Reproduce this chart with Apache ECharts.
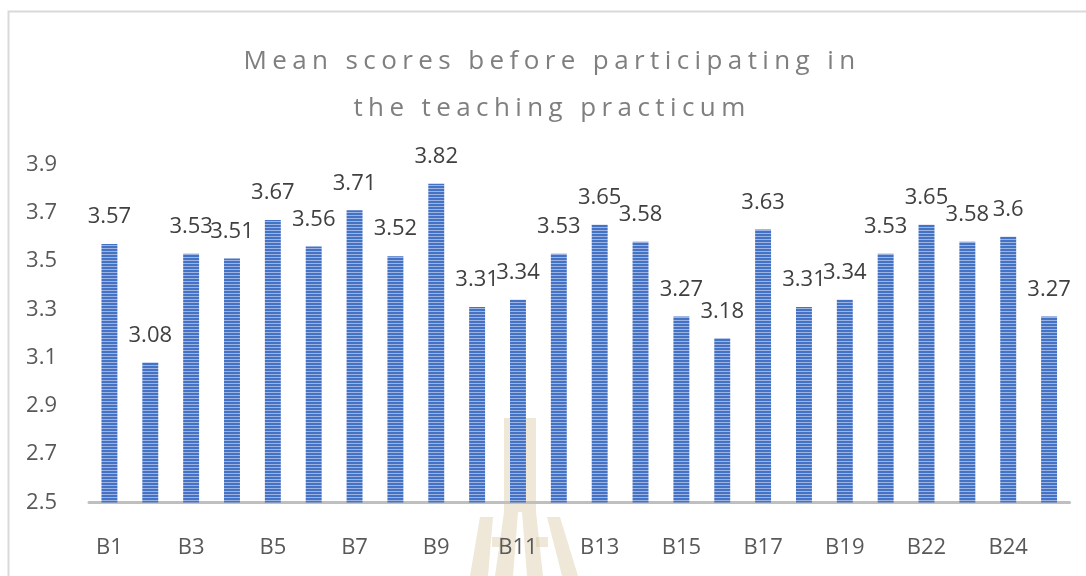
<!DOCTYPE html>
<html><head><meta charset="utf-8">
<script src="https://cdn.jsdelivr.net/npm/echarts@6/dist/echarts.min.js"></script>
<style>html,body{margin:0;padding:0;background:#fff}#c{width:1086px;height:576px}</style>
</head><body><div id="c"></div>
<script>
const categories = ['B1','B2','B3','B4','B5','B6','B7','B8','B9','B10','B11','B12','B13','B14','B15','B16','B17','B18','B19','B21','B22','B23','B24','B25'];
const values = [3.57,3.08,3.53,3.51,3.67,3.56,3.71,3.52,3.82,3.31,3.34,3.53,3.65,3.58,3.27,3.18,3.63,3.31,3.34,3.53,3.65,3.58,3.6,3.27];
const yMin = 2.5, yMax = 3.9, yStep = 0.2;
const titleLines = ['Mean scores before participating in', 'the teaching practicum'];

// letter-spaced title (real text, drawn by ECharts/zrender)
const TITLE_SPACING = 5.4;
const _fillText = CanvasRenderingContext2D.prototype.fillText;
CanvasRenderingContext2D.prototype.fillText = function (t, x, y, w) {
  if (titleLines.indexOf(t) >= 0 && 'letterSpacing' in this) {
    const prev = this.letterSpacing;
    this.letterSpacing = TITLE_SPACING + 'px';
    const r = w === undefined ? _fillText.call(this, t, x, y) : _fillText.call(this, t, x, y, w);
    this.letterSpacing = prev;
    return r;
  }
  return w === undefined ? _fillText.call(this, t, x, y) : _fillText.call(this, t, x, y, w);
};

// striped bar fill
const pc = document.createElement('canvas');
pc.width = 3; pc.height = 3;
const g = pc.getContext('2d');
g.fillStyle = '#4472C4'; g.fillRect(0, 0, 3, 2);
g.fillStyle = '#9DB4E3'; g.fillRect(0, 2, 3, 1);

const wm = 'rgba(214,194,156,0.38)';
const chart = echarts.init(document.getElementById('c'), null, {renderer: 'canvas'});
chart.setOption({
  animation: false,
  backgroundColor: '#fff',
  textStyle: {fontFamily: 'Open Sans'},
  title: {
    text: titleLines.join('\n'),
    left: 547, top: 33, textAlign: 'center',
    textStyle: {fontFamily: 'Open Sans', fontSize: 26, fontWeight: 'normal', color: '#7F7F7F', lineHeight: 47}
  },
  grid: {left: 89, right: 16.5, top: 164.4, bottom: 73.5, containLabel: false},
  xAxis: {
    type: 'category', data: categories,
    axisLine: {lineStyle: {color: '#BFBFBF', width: 3}},
    axisTick: {show: false},
    axisLabel: {interval: 1, color: '#595959', fontSize: 22, fontFamily: 'Open Sans', margin: 34}
  },
  yAxis: {
    type: 'value', min: yMin, max: yMax, interval: yStep,
    axisLine: {show: false}, axisTick: {show: false}, splitLine: {show: false},
    axisLabel: {color: '#595959', fontSize: 22, fontFamily: 'Open Sans', margin: 32,
      formatter: v => v.toFixed(1)}
  },
  series: [{
    type: 'bar', data: values, barWidth: '39%',
    itemStyle: {color: {image: pc, repeat: 'repeat'}},
    label: {show: true, position: 'top', distance: 16, color: '#404040', fontSize: 22, fontFamily: 'Open Sans'}
  }],
  graphic: [
    {type: 'rect', shape: {x: 8.5, y: 11.5, width: 1100, height: 600}, style: {fill: 'none', stroke: '#D9D9D9', lineWidth: 2}, z: 0, silent: true},
    {type: 'group', z: 100, silent: true, children: [
      {type: 'polygon', shape: {points: [[504,418],[536,418],[536,512],[504,512]]}, style: {fill: wm}},
      {type: 'polygon', shape: {points: [[504,512],[518,512],[513,576],[495,576]]}, style: {fill: wm}},
      {type: 'polygon', shape: {points: [[522,512],[536,512],[543,576],[527,576]]}, style: {fill: wm}},
      {type: 'polygon', shape: {points: [[480,517],[493,517],[488,576],[470,576]]}, style: {fill: wm}},
      {type: 'polygon', shape: {points: [[547,517],[560,517],[578,576],[562,576]]}, style: {fill: wm}},
      {type: 'rect', shape: {x: 492, y: 537, width: 12, height: 10}, style: {fill: wm}},
      {type: 'rect', shape: {x: 536, y: 537, width: 12, height: 10}, style: {fill: wm}}
    ]}
  ]
});
</script></body></html>
